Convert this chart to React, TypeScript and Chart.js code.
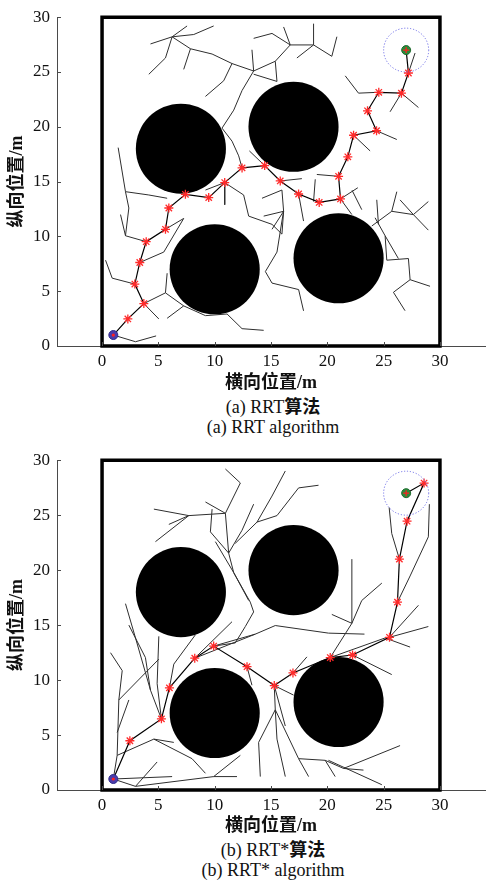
import React, { useEffect, useRef } from "react";
import { Chart, registerables } from "chart.js";

Chart.register(...registerables);

// ---------- shared data ----------
const xTickValues = [0, 5, 10, 15, 20, 25, 30];
const yTickValues = [0, 5, 10, 15, 20, 25, 30];
const obstacleX = [7, 17, 10, 21];
const obstacleY = [18, 20, 7, 8];
const obstacleR = [4, 4, 4, 4];
const startPoint = [1, 1];
const goalPoint = [27, 27];
const goalRadius = 2;
const workspaceX = [0, 30, 30, 0, 0];
const workspaceY = [0, 0, 30, 30, 0];

// ---------- (a) RRT ----------
const pathAX = [1, 2.29, 3.71, 2.91, 3.35, 3.92, 5.63, 5.93, 7.4, 9.47, 10.89, 12.43, 14.44, 15.82, 17.45, 19.28, 21.17, 21.0, 21.82, 22.33, 24.37, 23.57, 24.57, 26.58, 27.2, 27];
const pathAY = [1, 2.47, 3.87, 5.65, 7.62, 9.52, 10.65, 12.59, 13.84, 13.54, 14.91, 16.25, 16.46, 15.06, 13.87, 13.1, 13.42, 15.48, 17.26, 19.23, 19.64, 21.46, 23.15, 23.07, 24.91, 27];
const treeA: number[][] = [
  [6.22, 28.21, 4.3, 27.56],
  [6.22, 28.21, 7.55, 29.2],
  [6.22, 28.21, 8.14, 28.42, 9.91, 29.2],
  [6.22, 28.21, 5.63, 26.28, 4.15, 24.79],
  [6.22, 28.21, 7.85, 27.12, 9.77, 26.64, 11.54, 25.77, 13.46, 25.09],
  [7.85, 27.12, 7.25, 25.24],
  [11.54, 25.77, 10.8, 24.2, 9.18, 22.77],
  [13.46, 25.09, 13.31, 27.03],
  [13.46, 25.09, 15.38, 25.98, 16.71, 27.47],
  [15.38, 25.98, 15.53, 24.14, 13.46, 24.8],
  [13.46, 25.09, 12.43, 23.31, 11.69, 21.52, 10.65, 19.88, 11.54, 18.69, 12.13, 17.35, 12.43, 16.25],
  [16.71, 27.47, 16.12, 29.11],
  [16.71, 27.47, 15.09, 28.52, 13.46, 28.07],
  [16.71, 27.47, 18.78, 27.47, 18.78, 29.41],
  [18.78, 27.47, 17.3, 26.28],
  [18.78, 27.47, 20.4, 26.43, 20.85, 28.22],
  [24.57, 23.15, 22.77, 23.07, 21.59, 24.65],
  [25.57, 21.37, 26.58, 23.07, 28.09, 21.76],
  [27.2, 24.91, 27.79, 26.73],
  [24.37, 19.64, 26.17, 18.84],
  [22.33, 19.23, 23.8, 17.8],
  [21.0, 15.48, 19.07, 15.65],
  [21.17, 13.42, 22.71, 14.44],
  [22.2, 14.2, 23.06, 12.44],
  [21.17, 13.42, 22.18, 11.99],
  [13.08, 17.8, 14.44, 16.46],
  [15.82, 15.06, 17.74, 15.27],
  [18.93, 15.21, 18.78, 13.18],
  [17.45, 13.87, 17.89, 11.4],
  [14.2, 13.48, 15.97, 14.23, 16.12, 12.29, 14.35, 11.85],
  [16.12, 12.29, 15.09, 10.65],
  [16.12, 12.29, 15.97, 10.21],
  [10.89, 14.91, 9.18, 14.23],
  [10.89, 14.91, 10.89, 12.89],
  [10.89, 14.91, 12.57, 13.78, 13.02, 11.85, 15.09, 11.1, 15.97, 10.21],
  [16.12, 12.29, 15.97, 11.4, 15.53, 8.57, 14.5, 6.79, 15.09, 5.74, 17.45, 5.15, 17.89, 3.21],
  [23.95, 10.95, 25.72, 12.29, 26.17, 14.08],
  [25.72, 12.29, 27.64, 11.99, 28.97, 13.18],
  [27.64, 11.99, 28.97, 10.57],
  [27.64, 11.99, 26.46, 13.33],
  [24.39, 13.34, 24.54, 11.1],
  [24.24, 11.7, 25.13, 10.06, 25.28, 7.83, 27.2, 7.98, 27.35, 6.05, 29.12, 5.45],
  [27.35, 6.05, 25.87, 4.9, 26.9, 3.22],
  [25.13, 10.06, 26.31, 7.98],
  [1.43, 18.1, 2.08, 14.08, 4.15, 13.78, 5.78, 13.48],
  [2.08, 14.08, 2.38, 12.59, 2.08, 10.06, 3.92, 9.52],
  [1.64, 11.99, 2.08, 10.06],
  [0.31, 7.83, 0.9, 6.19, 2.91, 5.65],
  [3.35, 7.62, 5.48, 8.57, 7.25, 11.64],
  [5.63, 10.65, 7.25, 11.64],
  [3.71, 3.87, 5.63, 4.85, 7.25, 3.66, 9.18, 2.77, 11.1, 2.92, 12.43, 1.58, 14.35, 1.43],
  [5.63, 4.85, 5.78, 6.64],
  [7.25, 3.66, 5.78, 2.53],
  [3.71, 3.87, 5.04, 2.47],
  [1, 1, 2.97, 0.39, 4.8, 0.92],
];

// ---------- (b) RRT* ----------
const pathBX = [1, 2.47, 5.27, 5.98, 8.23, 9.91, 12.87, 15.29, 16.95, 20.26, 22.24, 25.52, 26.23, 26.4, 27.08, 28.59, 27];
const pathBY = [1, 4.48, 6.47, 9.29, 11.99, 13.09, 11.22, 9.5, 10.65, 12.05, 12.28, 13.89, 17.09, 21.0, 24.45, 27.92, 27];
const treeB: number[][] = [
  [1, 1, 6.22, 1.22],
  [1, 1, 2.97, 0.33, 9.91, 1.22, 11.98, 1.22],
  [2.97, 0.33, 4.89, 2.55],
  [9.91, 1.22, 12.28, 3.15],
  [1, 1, 1.34, 3.15, 1.49, 8.19, 1.79, 10.86, 0.75, 12.49],
  [1.49, 8.19, 5.04, 11.9],
  [1.34, 3.15, 4.6, 4.63, 6.37, 4.33],
  [4.6, 4.63, 7.99, 2.85, 9.18, 1.52],
  [1.34, 5.23, 2.38, 8.19],
  [2.08, 16.95, 2.97, 13.83, 4.3, 9.08, 5.27, 6.47],
  [2.38, 15.0, 3.85, 12.05, 4.3, 9.08],
  [5.04, 13.98, 4.89, 9.67, 5.27, 6.47],
  [5.98, 9.29, 6.37, 11.45, 8.29, 14.12],
  [8.23, 11.99, 11.54, 15.31],
  [9.91, 13.09, 13.61, 14.18, 15.38, 14.96, 20.11, 14.27, 23.3, 14.18],
  [8.23, 11.99, 13.61, 14.18],
  [12.87, 11.22, 13.31, 9.53],
  [15.29, 9.5, 17.01, 8.63],
  [15.29, 9.5, 16.27, 5.82],
  [15.29, 9.5, 15.38, 7.3, 13.9, 4.33, 14.05, 1.22],
  [15.38, 7.3, 15.53, 4.63, 16.27, 1.22],
  [15.38, 7.3, 17.45, 2.85, 18.34, 1.22],
  [17.45, 2.85, 19.81, 2.7, 21.44, 1.96, 23.21, 1.81],
  [19.81, 2.7, 20.7, 1.22],
  [21.44, 1.96, 26.46, 4.04],
  [20.1, 2.7, 24.84, 0.48],
  [16.95, 10.65, 18.19, 12.11],
  [20.26, 12.05, 22.18, 15.16, 22.18, 21.0],
  [22.18, 15.16, 20.4, 15.97],
  [22.18, 15.16, 23.06, 17.24, 24.84, 18.82],
  [20.26, 12.05, 25.13, 13.83, 27.35, 13.0],
  [25.52, 13.89, 28.97, 14.87],
  [25.52, 13.89, 28.09, 16.8],
  [22.24, 12.28, 25.72, 10.5],
  [26.23, 17.09, 27.35, 19.47, 28.97, 23.03, 29.06, 26.0],
  [26.4, 21.0, 25.72, 23.33, 25.49, 25.7],
  [4.6, 25.55, 7.7, 24.96, 10.95, 25.17, 12.28, 27.93, 10.95, 29.2],
  [7.7, 24.96, 5.93, 24.16],
  [7.7, 24.96, 4.74, 22.59],
  [10.95, 25.17, 9.18, 26.2],
  [10.95, 25.17, 11.24, 21.55, 11.69, 19.77, 13.16, 17.09, 13.46, 16.2, 12.72, 14.87, 11.83, 13.38, 9.91, 13.09],
  [9.77, 25.55, 9.62, 23.48, 11.24, 21.55],
  [10.06, 22.59, 11.69, 19.77, 13.02, 17.24],
  [11.24, 21.55, 12.43, 23.63, 13.46, 26.0],
  [11.83, 22.44, 13.76, 24.37, 15.53, 24.96, 17.45, 27.48, 19.22, 27.72],
  [13.76, 24.37, 15.09, 26.74, 16.27, 29.02],
];

const tickFont = '"Liberation Serif", "Times New Roman", serif';
const titleFont = '"Liberation Serif", "Noto Sans CJK SC", serif';
const axisColor = "#4a4a4a";

const overlayPlugin = {
  id: "overlay",
  afterDatasetsDraw(chart: any) {
    const { ctx } = chart;
    const xs = chart.scales.x;
    const ys = chart.scales.y;
    const cx = xs.getPixelForValue(goalPoint[0]);
    const cy = ys.getPixelForValue(goalPoint[1]);
    const rx = Math.abs(xs.getPixelForValue(goalRadius) - xs.getPixelForValue(0));
    const ry = Math.abs(ys.getPixelForValue(goalRadius) - ys.getPixelForValue(0));
    ctx.save();
    ctx.strokeStyle = "#6f6fe6";
    ctx.lineWidth = 1;
    ctx.setLineDash([1.2, 1.8]);
    ctx.beginPath();
    ctx.ellipse(cx, cy, rx, ry, 0, 0, Math.PI * 2);
    ctx.stroke();
    ctx.restore();
  },
  afterDraw(chart: any) {
    const { ctx, chartArea } = chart;
    const xs = chart.scales.x;
    const ys = chart.scales.y;
    ctx.save();
    ctx.strokeStyle = axisColor;
    ctx.lineWidth = 1;
    ctx.beginPath();
    xs.ticks.forEach((t: any) => {
      const px = Math.round(xs.getPixelForValue(t.value)) + 0.5;
      ctx.moveTo(px, chartArea.bottom);
      ctx.lineTo(px, chartArea.bottom - 4);
    });
    ys.ticks.forEach((t: any) => {
      const py = Math.round(ys.getPixelForValue(t.value)) + 0.5;
      ctx.moveTo(chartArea.left, py);
      ctx.lineTo(chartArea.left + 4, py);
    });
    ctx.stroke();
    ctx.restore();
  },
};

type PanelProps = {
  top: number;
  xHeight: number;
  pathX: number[];
  pathY: number[];
  tree: number[][];
};

function Panel({ top, xHeight, pathX, pathY, tree }: PanelProps) {
  const ref = useRef<HTMLCanvasElement>(null);
  useEffect(() => {
    const canvas = ref.current;
    if (!canvas) return;
    const treePts: { x: number; y: number }[] = [];
    tree.forEach((pl) => {
      for (let i = 0; i < pl.length; i += 2) treePts.push({ x: pl[i], y: pl[i + 1] });
      treePts.push({ x: NaN, y: NaN });
    });
    const pathPts = pathX.map((x, i) => ({ x, y: pathY[i] }));
    const starPts = pathPts.slice(1, -1);
    const borderPts = workspaceX.map((x, i) => ({ x, y: workspaceY[i] }));
    const obstaclePts = obstacleX.map((x, i) => ({ x, y: obstacleY[i] }));
    const startPts = [{ x: startPoint[0], y: startPoint[1] }];
    const goalPts = [{ x: goalPoint[0], y: goalPoint[1] }];

    const chart = new Chart(canvas, {
      type: "scatter",
      data: {
        datasets: [
          { data: startPts, pointStyle: "circle", pointRadius: 1.6, backgroundColor: "#ff2020", borderWidth: 0, order: 0, clip: false } as any,
          { data: goalPts, pointStyle: "cross", pointRadius: 3, borderColor: "#ff2020", borderWidth: 1.2, order: 0, clip: false } as any,
          { data: startPts, pointStyle: "circle", pointRadius: 4.5, backgroundColor: "#4a3cab", borderColor: "#2f2a8a", borderWidth: 1, order: 1, clip: false } as any,
          { data: goalPts, pointStyle: "circle", pointRadius: 4.5, backgroundColor: "#2a8c3c", borderColor: "#1d6a2c", borderWidth: 1, order: 1, clip: false } as any,
          { data: starPts, pointStyle: "star", pointRadius: 4.5, borderColor: "#ff2a2a", backgroundColor: "#ff2a2a", borderWidth: 1.3, order: 2, clip: false } as any,
          { data: pathPts, showLine: true, borderColor: "#000000", borderWidth: 1.2, pointRadius: 0, order: 3 } as any,
          { data: borderPts, showLine: true, borderColor: "#000000", borderWidth: 3.5, pointRadius: 0, borderJoinStyle: "miter", borderCapStyle: "square", order: 4, clip: false } as any,
          {
            data: obstaclePts,
            pointStyle: "circle",
            pointRadius: (c: any) => {
              const s = c.chart.scales.x;
              const r = obstacleR[c.dataIndex] ?? 0;
              return Math.abs(s.getPixelForValue(r) - s.getPixelForValue(0));
            },
            backgroundColor: "#000000",
            borderWidth: 0,
            order: 5,
          } as any,
          { data: treePts, showLine: true, borderColor: "#2e2e2e", borderWidth: 1, pointRadius: 0, spanGaps: false, order: 6 } as any,
        ],
      },
      options: {
        responsive: false,
        animation: false,
        events: [],
        layout: { padding: { top: 10, right: 6, left: 0, bottom: 0 } },
        plugins: {
          legend: { display: false },
          tooltip: { enabled: false },
          title: { display: false },
        },
        scales: {
          x: {
            type: "linear",
            min: -4,
            max: 34,
            afterBuildTicks: (s: any) => {
              s.ticks = xTickValues.map((v) => ({ value: v }));
            },
            afterFit: (s: any) => {
              s.height = xHeight;
            },
            grid: { display: true, drawOnChartArea: false, drawTicks: false },
            border: { display: true, color: axisColor, width: 1 },
            ticks: { padding: 5, color: "#111", autoSkip: false, maxRotation: 0, font: { family: tickFont, size: 17 } },
            title: {
              display: true,
              text: "横向位置/m",
              color: "#111",
              font: { family: titleFont, size: 18, weight: "bold" },
              padding: { top: 0, bottom: 1 },
            },
          },
          y: {
            type: "linear",
            min: 0,
            max: 30,
            afterBuildTicks: (s: any) => {
              s.ticks = yTickValues.map((v) => ({ value: v }));
            },
            afterFit: (s: any) => {
              s.width = 57;
            },
            grid: { display: true, drawOnChartArea: false, drawTicks: false },
            border: { display: true, color: axisColor, width: 1 },
            ticks: { padding: 7, color: "#111", autoSkip: false, font: { family: tickFont, size: 17 } },
            title: {
              display: true,
              text: "纵向位置/m",
              color: "#111",
              font: { family: titleFont, size: 18, weight: "bold" },
              padding: { top: 7, bottom: 0 },
            },
          },
        },
      } as any,
      plugins: [overlayPlugin],
    });
    return () => chart.destroy();
  }, [xHeight, pathX, pathY, tree]);

  return (
    <canvas
      ref={ref}
      width={491}
      height={395}
      style={{ position: "absolute", left: 0, top, width: 491, height: 395 }}
    />
  );
}

const captionStyle = (centerY: number): React.CSSProperties => ({
  position: "absolute",
  left: 0,
  width: 546,
  top: centerY - 10,
  height: 20,
  lineHeight: "20px",
  textAlign: "center",
  fontSize: 18,
  color: "#111",
  fontFamily: titleFont,
  whiteSpace: "nowrap",
});

export default function App() {
  return (
    <div style={{ position: "absolute", left: 0, top: 0, width: 491, height: 884, background: "#ffffff" }}>
      <Panel top={0} xHeight={49} pathX={pathAX} pathY={pathAY} tree={treeA} />
      <div style={captionStyle(407)}>
        (a) RRT<span style={{ fontWeight: "bold" }}>算法</span>
      </div>
      <div style={captionStyle(427)}>(a) RRT algorithm</div>
      <Panel top={443} xHeight={48} pathX={pathBX} pathY={pathBY} tree={treeB} />
      <div style={captionStyle(850)}>
        (b) RRT*<span style={{ fontWeight: "bold" }}>算法</span>
      </div>
      <div style={captionStyle(870)}>(b) RRT* algorithm</div>
    </div>
  );
}
